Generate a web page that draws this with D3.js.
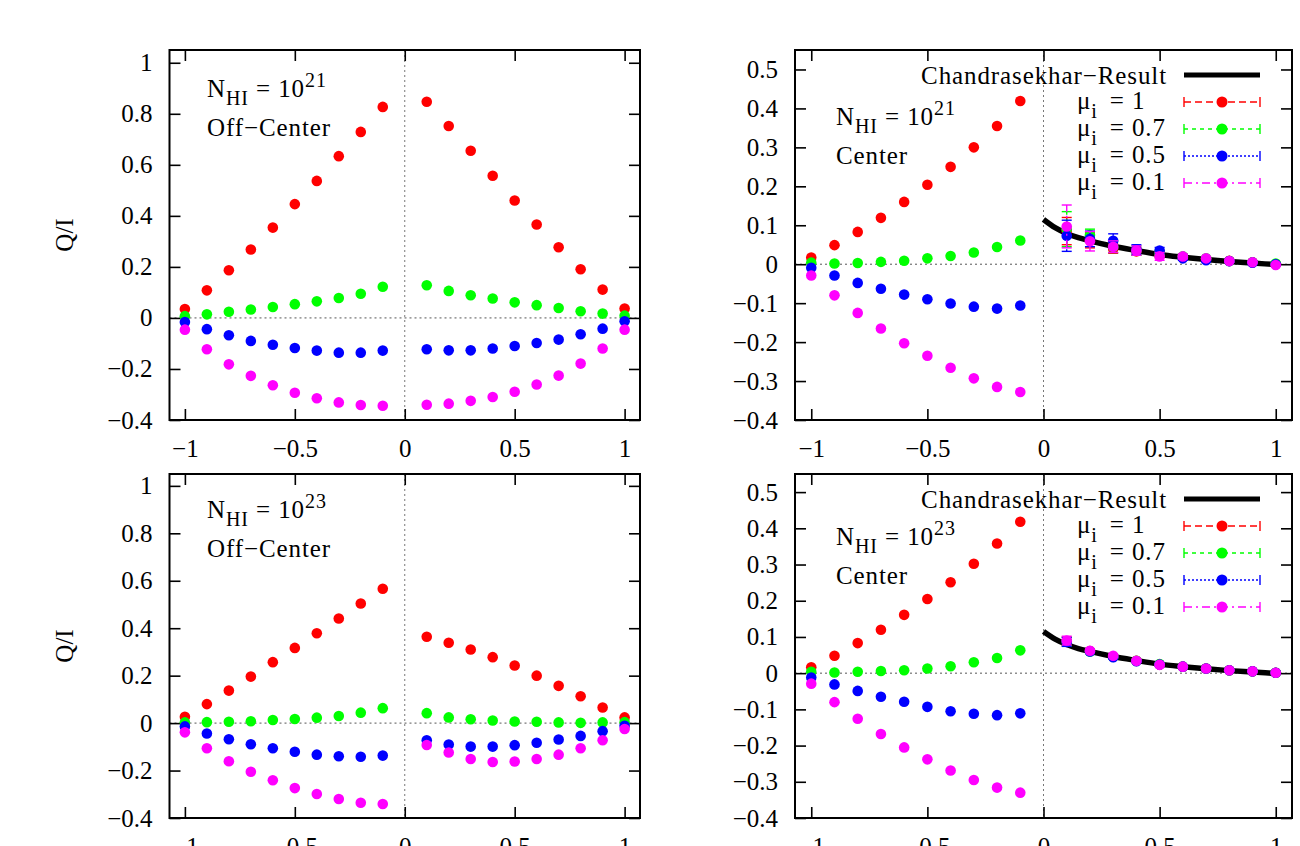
<!DOCTYPE html>
<html>
<head>
<meta charset="utf-8">
<script src="https://cdn.jsdelivr.net/npm/d3@7"></script>
<style>
  body { margin: 0; background: #fff; }
  text { font-family: "Liberation Serif", "Times New Roman", serif; fill: #000; }
  .wide { letter-spacing: 0.9px; }
</style>
</head>
<body>
<svg id="chart" width="1300" height="846"></svg>
<script>
// x positions of the samples (cos of the exit angle)
const xLeft = [-1, -0.9, -0.8, -0.7, -0.6, -0.5, -0.4, -0.3, -0.2, -0.1];
const xRight = [0.1, 0.2, 0.3, 0.4, 0.5, 0.6, 0.7, 0.8, 0.9, 1];
const xAll = xLeft.concat(xRight);

const muLabels = ["1", "0.7", "0.5", "0.1"];
const colors = ["#ff0000", "#00ff00", "#0000ff", "#ff00ff"];
const dashes = ["7,4", "4,4", "2,2", "8,4,2,4"];

// top left: N_HI = 1e21, off-center
const offC21_mu1  = [0.035, 0.108, 0.187, 0.268, 0.354, 0.446, 0.537, 0.634, 0.729, 0.827, 0.847, 0.752, 0.655, 0.557, 0.460, 0.366, 0.277, 0.191, 0.111, 0.037];
const offC21_mu07 = [0.007, 0.014, 0.024, 0.033, 0.043, 0.054, 0.065, 0.078, 0.095, 0.122, 0.128, 0.106, 0.089, 0.076, 0.061, 0.050, 0.039, 0.026, 0.017, 0.009];
const offC21_mu05 = [-0.016, -0.044, -0.068, -0.090, -0.105, -0.118, -0.128, -0.136, -0.136, -0.128, -0.123, -0.127, -0.127, -0.120, -0.110, -0.098, -0.085, -0.064, -0.042, -0.013];
const offC21_mu01 = [-0.046, -0.123, -0.182, -0.227, -0.264, -0.293, -0.315, -0.331, -0.341, -0.344, -0.340, -0.336, -0.325, -0.310, -0.289, -0.261, -0.226, -0.179, -0.120, -0.046];

// bottom left: N_HI = 1e23, off-center
const offC23_mu1  = [0.027, 0.080, 0.137, 0.196, 0.257, 0.317, 0.379, 0.441, 0.504, 0.566, 0.364, 0.339, 0.310, 0.278, 0.243, 0.200, 0.157, 0.113, 0.066, 0.024];
const offC23_mu07 = [0.003, 0.004, 0.006, 0.008, 0.013, 0.017, 0.023, 0.030, 0.044, 0.063, 0.042, 0.024, 0.016, 0.011, 0.007, 0.006, 0.003, 0.001, 0.003, 0.004];
const offC23_mu05 = [-0.014, -0.044, -0.068, -0.089, -0.106, -0.121, -0.133, -0.140, -0.142, -0.137, -0.072, -0.090, -0.099, -0.099, -0.093, -0.083, -0.069, -0.054, -0.034, -0.011];
const offC23_mu01 = [-0.039, -0.106, -0.161, -0.205, -0.241, -0.274, -0.299, -0.320, -0.336, -0.341, -0.092, -0.124, -0.151, -0.164, -0.162, -0.151, -0.133, -0.106, -0.072, -0.025];

// top right: N_HI = 1e21, center (right half carries error bars)
const cen21_mu1  = [0.017, 0.049, 0.083, 0.119, 0.160, 0.204, 0.250, 0.300, 0.355, 0.419, 0.085, 0.062, 0.040, 0.033, 0.025, 0.018, 0.013, 0.009, 0.005, 0.000];
const cen21_mu07 = [0.004, 0.002, 0.003, 0.006, 0.009, 0.015, 0.021, 0.030, 0.044, 0.061, 0.090, 0.075, 0.045, 0.035, 0.028, 0.020, 0.015, 0.008, 0.005, 0.002];
const cen21_mu05 = [-0.009, -0.029, -0.048, -0.063, -0.078, -0.090, -0.101, -0.109, -0.114, -0.106, 0.073, 0.065, 0.060, 0.038, 0.035, 0.015, 0.010, 0.008, 0.004, 0.000];
const cen21_mu01 = [-0.029, -0.080, -0.125, -0.165, -0.203, -0.235, -0.266, -0.293, -0.315, -0.328, 0.097, 0.059, 0.045, 0.035, 0.020, 0.020, 0.015, 0.008, 0.005, -0.002];
const cen21_err1  = [0.035, 0.020, 0.012, 0.010, 0.008, 0.005, 0.004, 0.003, 0.002, 0.002];
const cen21_err07 = [0.045, 0.015, 0.015, 0.012, 0.008, 0.006, 0.004, 0.003, 0.002, 0.002];
const cen21_err05 = [0.040, 0.020, 0.018, 0.012, 0.008, 0.005, 0.004, 0.003, 0.002, 0.002];
const cen21_err01 = [0.055, 0.025, 0.015, 0.012, 0.010, 0.006, 0.004, 0.003, 0.002, 0.002];

// bottom right: N_HI = 1e23, center
const cen23_mu1  = [0.016, 0.048, 0.083, 0.120, 0.161, 0.205, 0.251, 0.302, 0.358, 0.418, 0.088, 0.061, 0.046, 0.034, 0.024, 0.018, 0.013, 0.008, 0.005, 0.001];
const cen23_mu07 = [0.004, 0.002, 0.004, 0.006, 0.008, 0.013, 0.019, 0.030, 0.042, 0.063, 0.087, 0.060, 0.045, 0.034, 0.025, 0.018, 0.013, 0.008, 0.005, 0.001];
const cen23_mu05 = [-0.012, -0.031, -0.049, -0.065, -0.079, -0.093, -0.105, -0.112, -0.116, -0.111, 0.086, 0.060, 0.044, 0.033, 0.024, 0.018, 0.013, 0.008, 0.005, 0.001];
const cen23_mu01 = [-0.029, -0.080, -0.126, -0.168, -0.205, -0.238, -0.269, -0.295, -0.316, -0.330, 0.090, 0.062, 0.048, 0.034, 0.023, 0.018, 0.013, 0.008, 0.005, 0.001];
const cen23_err  = [0.012, 0.005, 0.004, 0.003, 0.003, 0.002, 0.002, 0.002, 0.002, 0.002];

// Chandrasekhar analytic result
const chandraX = [0, 0.05, 0.1, 0.15, 0.2, 0.3, 0.4, 0.5, 0.6, 0.7, 0.8, 0.9, 1.0];
const chandraY = [0.115, 0.094, 0.079, 0.068, 0.060, 0.046, 0.035, 0.025, 0.018, 0.012, 0.007, 0.003, -0.001];

const ticksLarge = [-0.4, -0.2, 0, 0.2, 0.4, 0.6, 0.8, 1];
const ticksSmall = [-0.4, -0.3, -0.2, -0.1, 0, 0.1, 0.2, 0.3, 0.4, 0.5];
const ticksX = [-1, -0.5, 0, 0.5, 1];

const svg = d3.select("#chart");
const fmt = v => String(+v.toFixed(1)).replace("-", "\u2212");

function drawPanel(p) {
  const g = svg.append("g");
  const x = d3.scaleLinear().domain([-1.07, 1.07]).range([p.left, p.right]);
  const y = d3.scaleLinear().domain(p.yDomain).range([p.bottom, p.top]);

  // zero axes
  g.append("line")
    .attr("x1", p.left).attr("x2", p.right)
    .attr("y1", y(0)).attr("y2", y(0))
    .attr("stroke", "#555").attr("stroke-width", 1).attr("stroke-dasharray", "2,3");
  g.append("line")
    .attr("x1", x(0)).attr("x2", x(0))
    .attr("y1", p.top).attr("y2", p.bottom)
    .attr("stroke", "#777").attr("stroke-width", 1).attr("stroke-dasharray", "2,3");

  // axes, gnuplot style ticks pointing inward on all sides
  const tick = -11;
  g.append("g").attr("transform", `translate(${p.left},0)`)
    .call(d3.axisLeft(y).tickValues(p.yTicks).tickSize(tick).tickSizeOuter(0).tickPadding(17).tickFormat(fmt));
  g.append("g").attr("transform", `translate(${p.right},0)`)
    .call(d3.axisRight(y).tickValues(p.yTicks).tickSize(tick).tickSizeOuter(0).tickFormat(""));
  g.append("g").attr("transform", `translate(0,${p.bottom})`)
    .call(d3.axisBottom(x).tickValues(ticksX).tickSize(tick).tickSizeOuter(0).tickPadding(19).tickFormat(fmt));
  g.append("g").attr("transform", `translate(0,${p.top})`)
    .call(d3.axisTop(x).tickValues(ticksX).tickSize(tick).tickSizeOuter(0).tickFormat(""));
  g.selectAll(".domain").remove();
  g.selectAll(".tick line").attr("stroke", "#000").attr("stroke-width", 1.6);
  g.selectAll(".tick text").attr("font-size", 25).attr("fill", "#000");

  g.append("rect")
    .attr("x", p.left).attr("y", p.top)
    .attr("width", p.right - p.left).attr("height", p.bottom - p.top)
    .attr("fill", "none").attr("stroke", "#000").attr("stroke-width", 2);

  // Chandrasekhar curve
  if (p.curve) {
    g.append("path")
      .datum(chandraX.map((v, i) => [v, chandraY[i]]))
      .attr("d", d3.line().x(d => x(d[0])).y(d => y(d[1])).curve(d3.curveMonotoneX))
      .attr("fill", "none").attr("stroke", "#000").attr("stroke-width", 5.5);
  }

  p.series.forEach((s, k) => {
    const pts = xAll.map((v, i) => ({ x: v, y: s[i], e: (p.errors && i >= 10) ? p.errors[k][i - 10] : 0 }));
    if (p.errors) {
      const eb = g.append("g").attr("stroke", colors[k]).attr("stroke-width", 1.4).attr("fill", "none");
      pts.filter(d => d.e > 0).forEach(d => {
        const cx = x(d.x);
        eb.append("line").attr("x1", cx).attr("x2", cx).attr("y1", y(d.y - d.e)).attr("y2", y(d.y + d.e))
          .attr("stroke-dasharray", dashes[k]);
        eb.append("line").attr("x1", cx - 5).attr("x2", cx + 5).attr("y1", y(d.y - d.e)).attr("y2", y(d.y - d.e));
        eb.append("line").attr("x1", cx - 5).attr("x2", cx + 5).attr("y1", y(d.y + d.e)).attr("y2", y(d.y + d.e));
      });
    }
    g.append("g").selectAll("circle").data(pts).join("circle")
      .attr("cx", d => x(d.x)).attr("cy", d => y(d.y)).attr("r", 5.3)
      .attr("fill", colors[k]);
  });

  // annotation
  const t = g.append("text").attr("class", "wide").attr("x", p.noteX).attr("y", p.noteY).attr("font-size", 25);
  t.append("tspan").text("N");
  t.append("tspan").attr("font-size", 20).attr("dy", 8).text("HI");
  t.append("tspan").attr("dy", -8).text(" = 10");
  t.append("tspan").attr("font-size", 20).attr("dy", -10).text(p.power);
  g.append("text").attr("class", "wide").attr("x", p.noteX).attr("y", p.noteY + 39)
    .attr("font-size", 25).text(p.place);

  if (p.ylabel) {
    g.append("text")
      .attr("transform", `translate(73,${(p.top + p.bottom) / 2}) rotate(-90)`)
      .attr("text-anchor", "middle").attr("font-size", 25).text("Q/I");
  }

  if (p.legend) {
    const L = g.append("g");
    const ly = p.top + 25;
    const x1 = 1184, x2 = 1260, xm = 1222;
    L.append("text").attr("class", "wide").attr("x", 1167).attr("y", ly + 9).attr("text-anchor", "end")
      .attr("font-size", 25).text("Chandrasekhar\u2212Result");
    L.append("line").attr("x1", x1).attr("x2", x2).attr("y1", ly).attr("y2", ly)
      .attr("stroke", "#000").attr("stroke-width", 5);
    muLabels.forEach((m, k) => {
      const ry = ly + 27 * (k + 1);
      const tx = L.append("text").attr("class", "wide").attr("x", 1077).attr("y", ry + 7).attr("font-size", 25);
      tx.append("tspan").text("\u03bc");
      tx.append("tspan").attr("font-size", 20).attr("dy", 9).text("i");
      tx.append("tspan").attr("dy", -9).attr("dx", 12).text("= " + m);
      L.append("line").attr("x1", x1).attr("x2", x2).attr("y1", ry).attr("y2", ry)
        .attr("stroke", colors[k]).attr("stroke-width", 1.4).attr("stroke-dasharray", dashes[k]);
      [x1, x2].forEach(ex => L.append("line").attr("x1", ex).attr("x2", ex)
        .attr("y1", ry - 5).attr("y2", ry + 5).attr("stroke", colors[k]).attr("stroke-width", 1.4));
      L.append("circle").attr("cx", xm).attr("cy", ry).attr("r", 5.5).attr("fill", colors[k]);
    });
  }
}

drawPanel({
  left: 169.5, right: 640, top: 50, bottom: 420, yDomain: [-0.4, 1.05], yTicks: ticksLarge,
  series: [offC21_mu1, offC21_mu07, offC21_mu05, offC21_mu01],
  noteX: 207, noteY: 97, power: "21", place: "Off\u2212Center", ylabel: true
});
drawPanel({
  left: 169.5, right: 640, top: 474, bottom: 818, yDomain: [-0.4, 1.05], yTicks: ticksLarge,
  series: [offC23_mu1, offC23_mu07, offC23_mu05, offC23_mu01],
  noteX: 207, noteY: 518, power: "23", place: "Off\u2212Center", ylabel: true
});
drawPanel({
  left: 795, right: 1292, top: 50, bottom: 420, yDomain: [-0.4, 0.55], yTicks: ticksSmall,
  series: [cen21_mu1, cen21_mu07, cen21_mu05, cen21_mu01],
  errors: [cen21_err1, cen21_err07, cen21_err05, cen21_err01],
  noteX: 836, noteY: 125, power: "21", place: "Center", curve: true, legend: true
});
drawPanel({
  left: 795, right: 1292, top: 474, bottom: 818, yDomain: [-0.4, 0.55], yTicks: ticksSmall,
  series: [cen23_mu1, cen23_mu07, cen23_mu05, cen23_mu01],
  errors: [cen23_err, cen23_err, cen23_err, cen23_err],
  noteX: 836, noteY: 545, power: "23", place: "Center", curve: true, legend: true
});
</script>
</body>
</html>
